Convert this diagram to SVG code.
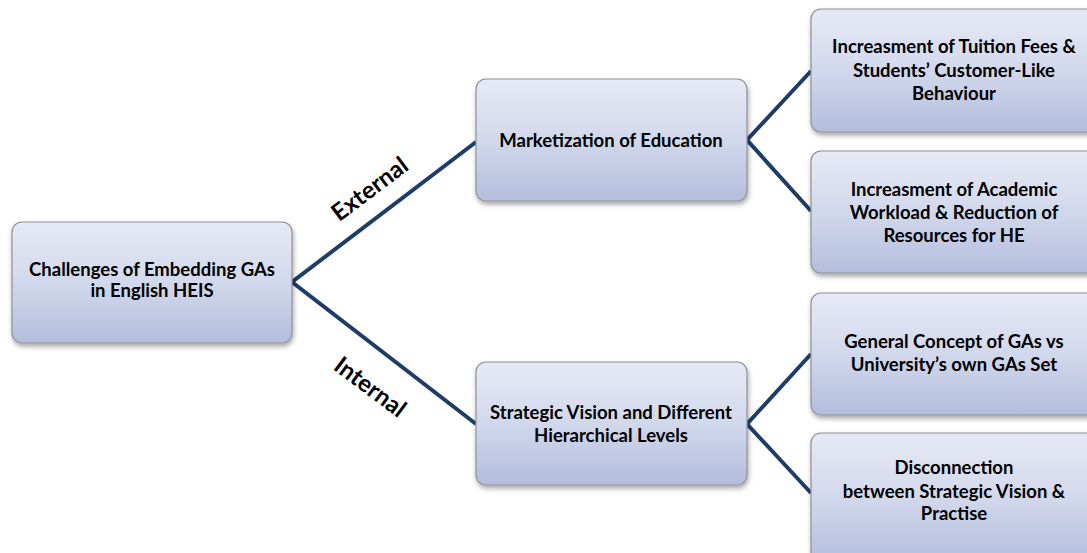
<svg xmlns="http://www.w3.org/2000/svg" width="1087" height="553" viewBox="0 0 1087 553">
<style>
.box{fill:url(#g);stroke:#8f9096;stroke-width:1.2;filter:url(#sh)}
.t{font-family:Lato,"Open Sans","Liberation Sans",sans-serif;font-weight:bold;font-size:18.5px;fill:#000;text-anchor:middle}
.lb{font-family:Lato,"Open Sans","Liberation Sans",sans-serif;font-weight:bold;font-size:24px;fill:#000;text-anchor:middle;dominant-baseline:central}
.c{stroke:#1d3c66;stroke-width:4;fill:none;stroke-linejoin:miter}
</style>
<defs>
<linearGradient id="g" x1="0" y1="0" x2="0" y2="1">
<stop offset="0" stop-color="#e7eaf5"/>
<stop offset="0.5" stop-color="#d2d8ec"/>
<stop offset="1" stop-color="#b3bddd"/>
</linearGradient>
<filter id="sh" x="-10%" y="-10%" width="130%" height="140%">
<feDropShadow dx="1" dy="3" stdDeviation="2.5" flood-color="#000" flood-opacity="0.35"/>
</filter>
</defs>
<rect width="1087" height="553" fill="#fff"/>
<g id="connectors">
<polyline class="c" points="476,142 292,282 476,424"/>
<polyline class="c" points="811,71 747,140 811,211"/>
<polyline class="c" points="811,354 747,424 811,493"/>
<text class="lb" transform="translate(369,188) rotate(-37)">External</text>
<text class="lb" transform="translate(371,386) rotate(37)">Internal</text>
</g>
<g id="root">
<rect class="box" x="12" y="222" width="280" height="121" rx="10"/>
<text class="t" x="152" y="276">Challenges of Embedding GAs</text>
<text class="t" x="152" y="297">in English HEIS</text>
</g>
<g id="marketization">
<rect class="box" x="476" y="79" width="271" height="122" rx="10"/>
<text class="t" x="611" y="147">Marketization of Education</text>
</g>
<g id="strategic">
<rect class="box" x="476" y="362" width="271" height="123" rx="10"/>
<text class="t" x="611" y="419">Strategic Vision and Different</text>
<text class="t" x="611" y="442">Hierarchical Levels</text>
</g>
<g id="tuition">
<rect class="box" x="811" y="9" width="290" height="123" rx="10"/>
<text class="t" x="954" y="53">Increasment of Tuition Fees &amp;</text>
<text class="t" x="954" y="77">Students’ Customer-Like</text>
<text class="t" x="954" y="100">Behaviour</text>
</g>
<g id="workload">
<rect class="box" x="811" y="151" width="290" height="122" rx="10"/>
<text class="t" x="954" y="196">Increasment of Academic</text>
<text class="t" x="954" y="219">Workload &amp; Reduction of</text>
<text class="t" x="954" y="242">Resources for HE</text>
</g>
<g id="general">
<rect class="box" x="811" y="293" width="290" height="122" rx="10"/>
<text class="t" x="954" y="348">General Concept of GAs vs</text>
<text class="t" x="954" y="371">University’s own GAs Set</text>
</g>
<g id="disconnection">
<rect class="box" x="811" y="433" width="290" height="130" rx="10"/>
<text class="t" x="954" y="474">Disconnection</text>
<text class="t" x="954" y="498">between Strategic Vision &amp;</text>
<text class="t" x="954" y="520">Practise</text>
</g>
</svg>
